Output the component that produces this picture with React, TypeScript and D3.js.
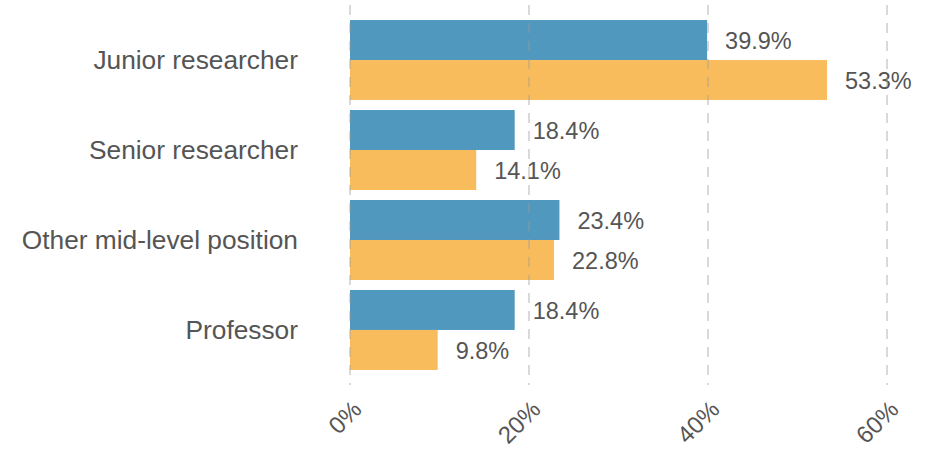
import React, { useEffect, useRef } from "react";
import * as d3 from "d3";

const categories = ["Junior researcher", "Senior researcher", "Other mid-level position", "Professor"];
const seriesA = [39.9, 18.4, 23.4, 18.4];
const seriesB = [53.3, 14.1, 22.8, 9.8];
const xTicks = [0, 20, 40, 60];

const App: React.FC = () => {
  const svgRef = useRef<SVGSVGElement | null>(null);

  useEffect(() => {
    const width = 930;
    const height = 451;
    const font = "'Liberation Sans', Arial, sans-serif";
    const textColor = "#555";

    d3.select(svgRef.current).selectAll("*").remove();
    const svg = d3.select(svgRef.current).attr("width", width).attr("height", height);

    const x = d3.scaleLinear().domain([0, 60]).range([350, 887]);
    const y = d3.scaleBand<string>().domain(categories).range([15, 375]).paddingInner(0.111).paddingOuter(0.056);
    const sub = d3.scaleBand<string>().domain(["a", "b"]).range([0, y.bandwidth()]);

    const rows = categories.map((c, i) => ({ c, a: seriesA[i], b: seriesB[i] }));
    const colors: Record<string, string> = { a: "#5098be", b: "#f8bc5c" };

    const g = svg.selectAll("g.row").data(rows).enter().append("g")
      .attr("transform", (d) => `translate(0,${y(d.c)})`);

    (["a", "b"] as const).forEach((k) => {
      g.append("rect")
        .attr("x", x(0))
        .attr("y", sub(k)!)
        .attr("width", (d) => x(d[k]) - x(0))
        .attr("height", sub.bandwidth())
        .attr("fill", colors[k]);
      g.append("text")
        .attr("x", (d) => x(d[k]) + 18)
        .attr("y", sub(k)! + sub.bandwidth() / 2 + 1)
        .attr("dy", "0.35em")
        .attr("font-family", font)
        .attr("font-size", 23.5)
        .attr("fill", textColor)
        .text((d) => `${d[k]}%`);
    });

    // category labels
    svg.selectAll("text.cat").data(categories).enter().append("text")
      .attr("x", 298)
      .attr("y", (d) => y(d)! + y.bandwidth() / 2)
      .attr("dy", "0.35em")
      .attr("text-anchor", "end")
      .attr("font-family", font)
      .attr("font-size", 26.3)
      .attr("fill", textColor)
      .text((d) => d);

    // dashed grid
    svg.selectAll("line.grid").data(xTicks).enter().append("line")
      .attr("x1", (d) => x(d)).attr("x2", (d) => x(d))
      .attr("y1", 5).attr("y2", 385)
      .attr("stroke", "#999")
      .attr("stroke-opacity", 0.5)
      .attr("stroke-width", 1.5)
      .attr("stroke-dasharray", "10,8");

    // rotated tick labels
    svg.selectAll("text.tick").data(xTicks).enter().append("text")
      .attr("transform", (d) => `translate(${x(d) + 13},${411}) rotate(-45)`)
      .attr("text-anchor", "end")
      .attr("font-family", font)
      .attr("font-size", 24)
      .attr("fill", textColor)
      .text((d) => `${d}%`);
  }, []);

  return <svg ref={svgRef} style={{ position: "absolute", left: 0, top: 0 }}></svg>;
};

export default App;
